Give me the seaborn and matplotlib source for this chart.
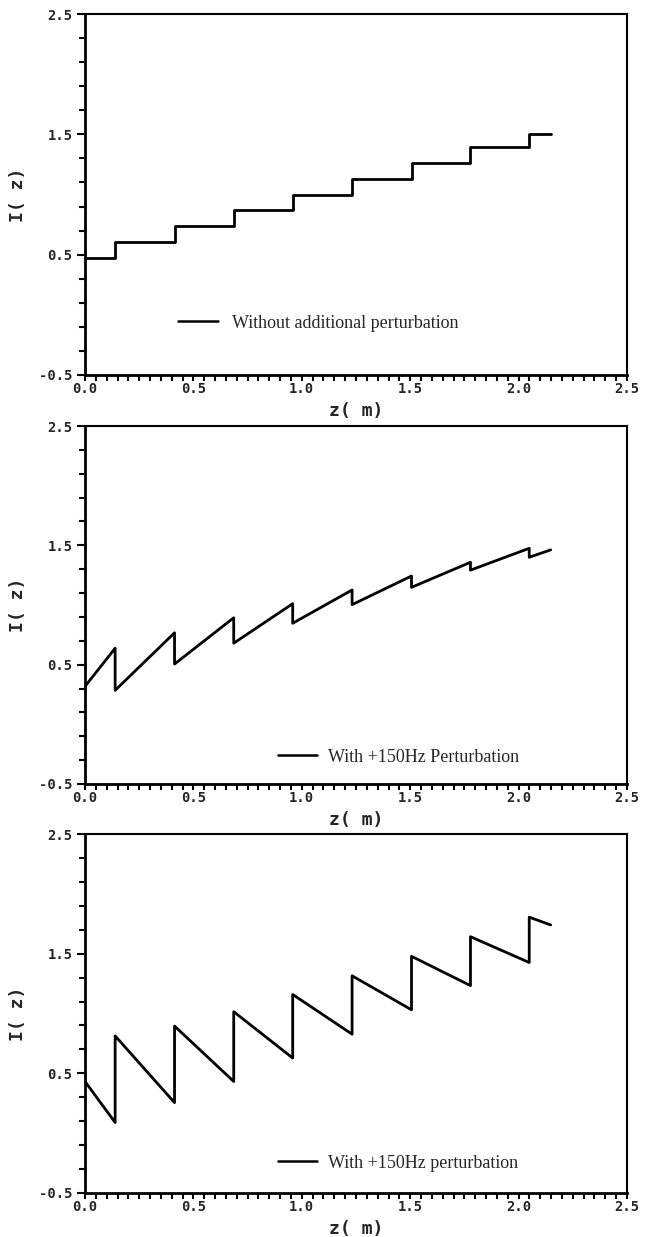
import numpy as np
import pandas as pd
import matplotlib
matplotlib.use("Agg")
import matplotlib.pyplot as plt
import seaborn as sns
from matplotlib.ticker import FixedLocator

# ---------------- data ----------------
# Panel 1: staircase (steps-post)
z1 = [0.0, 0.139, 0.413, 0.686, 0.958, 1.232, 1.506, 1.778, 2.049, 2.148]
i1 = [0.47, 0.608, 0.738, 0.868, 0.995, 1.127, 1.260, 1.394, 1.505, 1.505]

# Panel 2: with +150Hz Perturbation (sawtooth, rising ramps)
z2 = [0.0, 0.139, 0.139, 0.413, 0.413, 0.686, 0.686, 0.958, 0.958,
      1.232, 1.232, 1.506, 1.506, 1.778, 1.778, 2.049, 2.049, 2.148]
i2 = [0.318, 0.638, 0.285, 0.767, 0.505, 0.893, 0.680, 1.011, 0.847,
      1.126, 1.003, 1.243, 1.148, 1.358, 1.292, 1.475, 1.400, 1.462]

# Panel 3: with +150Hz perturbation (sawtooth, falling ramps)
z3 = [0.0, 0.139, 0.139, 0.413, 0.413, 0.686, 0.686, 0.958, 0.958,
      1.232, 1.232, 1.506, 1.506, 1.778, 1.778, 2.049, 2.049, 2.148]
i3 = [0.432, 0.089, 0.813, 0.255, 0.895, 0.432, 1.015, 0.628, 1.159,
      0.827, 1.315, 1.031, 1.478, 1.233, 1.642, 1.426, 1.805, 1.740]

labels = ["Without additional perturbation",
          "With +150Hz Perturbation",
          "With +150Hz perturbation"]

x_ticks = [0.0, 0.5, 1.0, 1.5, 2.0, 2.5]
x_ticklabels = ["0.0", "0.5", "1.0", "1.5", "2.0", "2.5"]
y_ticks = [-0.5, 0.5, 1.5, 2.5]
y_ticklabels = ["-0.5", "0.5", "1.5", "2.5"]

# ---------------- styling ----------------
sns.set_theme(style="ticks")
plt.rcParams["font.family"] = ["DejaVu Sans Mono", "DejaVu Sans"]

W, H = 645, 1237
fig = plt.figure(figsize=(W / 100, H / 100), dpi=100)
fig.patch.set_facecolor("white")

left_px, right_px = 85, 627
panels_px = [(14, 375), (426, 784), (834, 1193)]
legend_pos = [(0.172, 0.144, 2.2, 0.78), (0.356, 0.075, 2.15, 0.61), (0.356, 0.083, 2.15, 0.61)]

datasets = [(z1, i1, "steps-post"), (z2, i2, "default"), (z3, i3, "default")]

for k, ((top, bot), (zz, ii, ds)) in enumerate(zip(panels_px, datasets)):
    ax = fig.add_axes([left_px / W, 1 - bot / H, (right_px - left_px) / W, (bot - top) / H])
    df = pd.DataFrame({"z": zz, "I": ii})
    sns.lineplot(data=df, x="z", y="I", ax=ax, color="black", linewidth=2.0,
                 estimator=None, sort=False, drawstyle=ds, label=labels[k])

    ax.set_xlim(0, 2.5)
    ax.set_ylim(-0.5, 2.5)
    ax.set_xticks(x_ticks)
    ax.set_xticklabels(x_ticklabels, fontsize=10, fontweight="bold")
    ax.set_yticks(y_ticks)
    ax.set_yticklabels(y_ticklabels, fontsize=10, fontweight="bold")
    ax.xaxis.set_minor_locator(FixedLocator(np.arange(0, 2.501, 0.05)))
    ax.yaxis.set_minor_locator(FixedLocator(np.arange(-0.5, 2.501, 0.2)))
    ax.tick_params(which="both", direction="out", top=False, right=False,
                   color="black", width=1.5)
    ax.tick_params(which="major", length=6, pad=3)
    ax.tick_params(which="minor", length=4)
    ax.tick_params(axis="x", which="major", length=4, pad=1)

    for s in ["left", "bottom"]:
        ax.spines[s].set_linewidth(2.0)
    for s in ["top", "right"]:
        ax.spines[s].set_linewidth(1.5)
    for s in ax.spines.values():
        s.set_color("black")

    ax.set_xlabel("z( m)", fontsize=13, fontweight="bold")
    ax.set_ylabel("I( z)", fontsize=13, fontweight="bold")
    ax.xaxis.set_label_coords(0.5, -0.075)
    ax.yaxis.set_label_coords(-0.107, 0.5)
    ax.grid(False)

    lx, ly, hl, hp = legend_pos[k]
    leg = ax.legend(loc="center left", bbox_to_anchor=(lx, ly), frameon=False,
                    borderpad=0, borderaxespad=0, handlelength=hl, handletextpad=hp,
                    prop={"family": "Liberation Serif", "size": 13})
    for line in leg.get_lines():
        line.set_linewidth(1.8)

fig.savefig("out.png", dpi=100, facecolor="white")
